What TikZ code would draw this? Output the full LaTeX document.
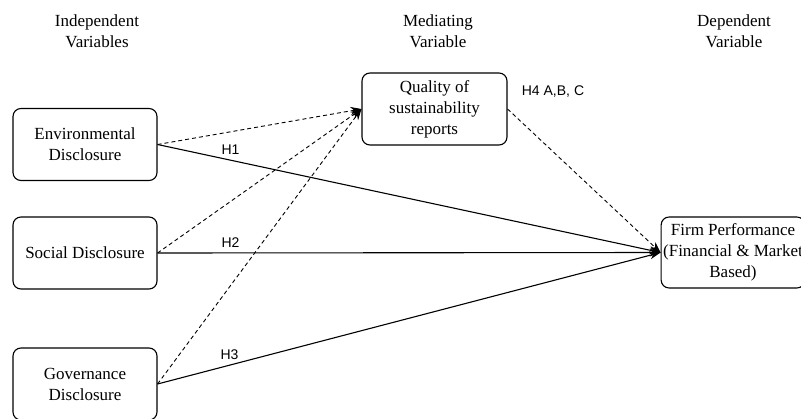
\documentclass[tikz,border=0pt]{standalone}
\usepackage{fontspec}
\setmainfont{Liberation Serif}
\newfontfamily\hfont{Liberation Sans}
\usetikzlibrary{arrows.meta}
\usetikzlibrary{positioning}

\tikzset{
  varbox/.style={draw, rounded corners=8pt, line width=1.1pt, align=center,
    minimum width=144pt, minimum height=72pt, inner sep=2pt,
    font=\fontsize{17}{21}\selectfont},
  headtext/.style={align=center, font=\fontsize{17}{21}\selectfont},
  hyplabel/.style={font=\hfont\fontsize{14}{16}\selectfont, inner sep=2pt},
  direct/.style={line width=1.1pt, -{Stealth[length=11pt,width=8pt]}},
  mediated/.style={line width=0.9pt, dash pattern=on 4pt off 3pt, -{Stealth[length=11pt,width=8pt]}}
}

\begin{document}
\begin{tikzpicture}[x=1pt,y=-1pt]
                \useasboundingbox (0,0) rectangle (801,418);
                \node[headtext] (indep) at (97,31) {Independent\\Variables};
                \node[headtext] (mediat) at (438,31) {Mediating\\Variable};
                \node[headtext] (depend) at (734,31) {Dependent\\Variable};
                \node[varbox] (env) at (85,144.5) {Environmental\\Disclosure};
                \node[varbox] (soc) at (85,253) {Social Disclosure};
                \node[varbox] (gov) at (85,384) {Governance\\Disclosure};
                \node[varbox, minimum width=145pt] (qual) at (434.5,109) {Quality of\\sustainability\\reports};
                \node[varbox, minimum width=140pt, minimum height=71pt] (firm) at (733,252.5) {Firm Performance\\(Financial \& Market\\Based)};
                \node[hyplabel] (h4) at (553,92) {H4 A,B, C};
                \draw[direct] (env.east) to node[hyplabel, pos=0.145, above=3pt] (h1) {H1} (firm.west);
                \draw[direct] (soc.east) to node[hyplabel, pos=0.145, above=3pt] (h2) {H2} (firm.west);
                \draw[direct] (gov.east) to node[hyplabel, pos=0.143, above=3pt] (h3) {H3} (firm.west);
                \draw[mediated] (env.east) to (qual.west);
                \draw[mediated] (soc.east) to (qual.west);
                \draw[mediated] (gov.east) to (qual.west);
                \draw[mediated] (qual.east) to (firm.west);
\end{tikzpicture}
\end{document}
